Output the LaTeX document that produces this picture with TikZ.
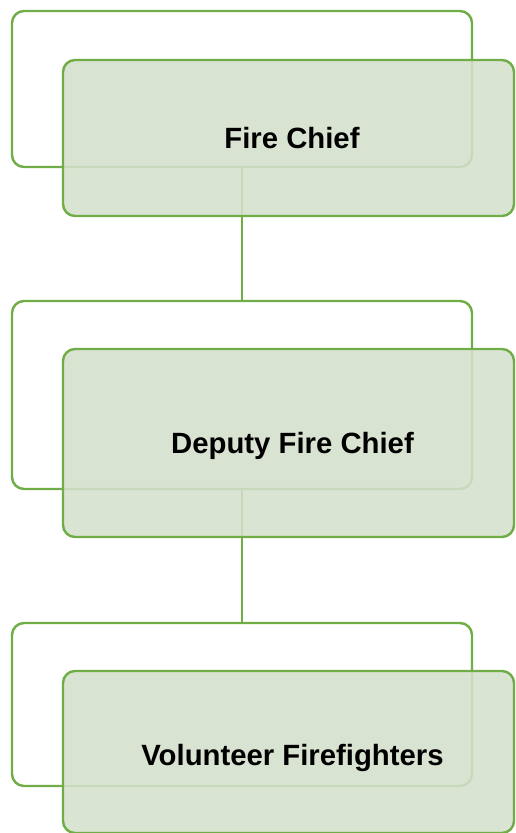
\documentclass[tikz,border=0pt]{standalone}
\usepackage{fontspec}
\setmainfont{Liberation Sans}
\definecolor{orgline}{RGB}{112,173,71}
\definecolor{orgfill}{RGB}{212,224,204}
\tikzset{
  backbox/.style={draw=orgline, line width=2.4pt, fill=white, rounded corners=12pt,
    minimum width=460pt, inner sep=0pt, outer sep=0pt},
  frontbox/.style={draw=orgline, line width=2.4pt, fill=orgfill, fill opacity=0.88,
    rounded corners=12pt, minimum width=451pt, inner sep=0pt, outer sep=0pt},
  rolelabel/.style={anchor=base, text=black, font=\bfseries\fontsize{29.3}{35}\selectfont},
  link/.style={draw=orgline, line width=2.4pt}
}
\begin{document}
\begin{tikzpicture}[x=1pt, y=-1pt]
\useasboundingbox (0,0) rectangle (515,833);
% frames behind
\node[backbox, minimum height=156pt] (chiefback) at (242,89) {};
\node[backbox, minimum height=188pt] (deputyback) at (242,395) {};
\node[backbox, minimum height=163pt] (crewback) at (242,704.5) {};
% links
\draw[link] (chiefback.south) -- (deputyback.north);
\draw[link] (deputyback.south) -- (crewback.north);
% front boxes
\node[frontbox, minimum height=156pt] (chief) at (288.5,138) {};
\node[frontbox, minimum height=188pt] (deputy) at (288.5,443) {};
\node[frontbox, minimum height=162pt] (crew) at (288.5,752) {};
% labels
\node[rolelabel] (chieftext) at (292,148) {Fire Chief};
\node[rolelabel] (deputytext) at (292.5,453.5) {Deputy Fire Chief};
\node[rolelabel] (crewtext) at (292.5,765) {Volunteer Firefighters};
\end{tikzpicture}
\end{document}
